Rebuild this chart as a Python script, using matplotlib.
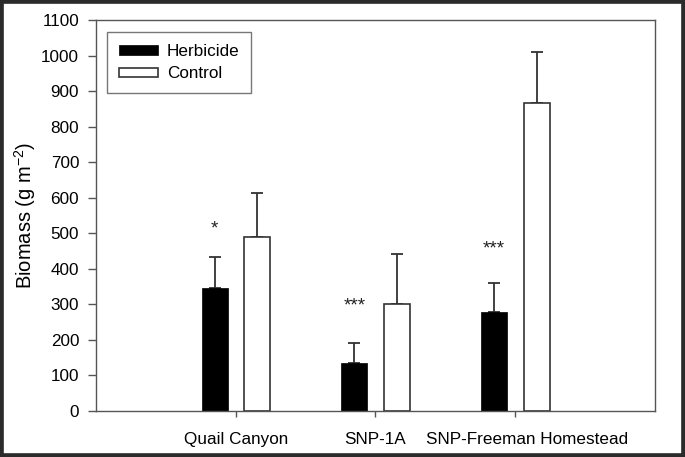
import matplotlib
matplotlib.use("Agg")
import matplotlib.pyplot as plt
import matplotlib.transforms as mtransforms
from matplotlib.patches import Rectangle
import numpy as np

plt.rcParams['font.family'] = ['Liberation Sans', 'DejaVu Sans']

# data
sites = ["Quail Canyon", "SNP-1A", "SNP-Freeman Homestead"]
herbicide = [345, 136, 279]
herbicide_err = [87, 54, 82]
control = [489, 301, 866]
control_err = [124, 140, 145]
stars = ["*", "***", "***"]
star_y = [512, 296, 456]

x = np.arange(1, len(sites) + 1)
w = 0.185
edge = "#333333"

fig = plt.figure(figsize=(6.85, 4.57), dpi=100)
ax = fig.add_axes([0.140, 0.1007, 0.816, 0.8555])

ax.bar(x - 0.15, herbicide, w, color="black", edgecolor="black", linewidth=0.5,
       label="Herbicide", zorder=2)
ax.bar(x + 0.155, control, w, color="white", edgecolor=edge, linewidth=1.2,
       label="Control", zorder=2)

# one-sided error bars (upper only)
ax.errorbar(x - 0.15, herbicide, yerr=[np.zeros(3), herbicide_err], fmt="none",
            ecolor=edge, elinewidth=1.3, capsize=4.5, capthick=1.3, zorder=1)
ax.errorbar(x + 0.155, control, yerr=[np.zeros(3), control_err], fmt="none",
            ecolor=edge, elinewidth=1.3, capsize=4.5, capthick=1.3, zorder=1)

for xi, s, sy in zip(x, stars, star_y):
    ax.text(xi - 0.15, sy, s, ha="center", va="center", fontsize=13.5, color="#222222")

ax.set_xlim(0, 4)
ax.set_ylim(0, 1100)
ax.set_yticks(np.arange(0, 1101, 100))
ax.set_xticks(x)
ax.set_xticklabels(sites, fontsize=12.3)
ax.tick_params(axis="y", direction="out", length=6, width=1, color="#555555",
               labelsize=12.3, pad=6)
ax.tick_params(axis="x", direction="out", length=4, width=1, color="#555555",
               pad=11)
# the long last label sits a little right of its tick in the original
last = ax.get_xticklabels()[-1]
last.set_transform(last.get_transform() +
                   mtransforms.ScaledTranslation(12 / 100, 0, fig.dpi_scale_trans))
for sp in ax.spines.values():
    sp.set_color("#555555")
    sp.set_linewidth(1.0)

ax.set_ylabel(r"Biomass (g m$^{\mathregular{-2}}$)", fontsize=14.5, labelpad=2.5)

leg = ax.legend(loc="upper left", bbox_to_anchor=(0.0197, 0.969), fontsize=12.3,
                frameon=True, fancybox=False, edgecolor="#555555",
                handlelength=2.3, handleheight=0.45, handletextpad=0.5,
                borderpad=0.7, labelspacing=0.42, borderaxespad=0)
leg.get_frame().set_linewidth(1.0)

# dark frame around the whole picture
fig.patches.append(Rectangle((0, 0), 1, 1, transform=fig.transFigure,
                             fill=False, edgecolor="#2b2b2b", linewidth=5.5))

fig.savefig("out.png", dpi=100)
